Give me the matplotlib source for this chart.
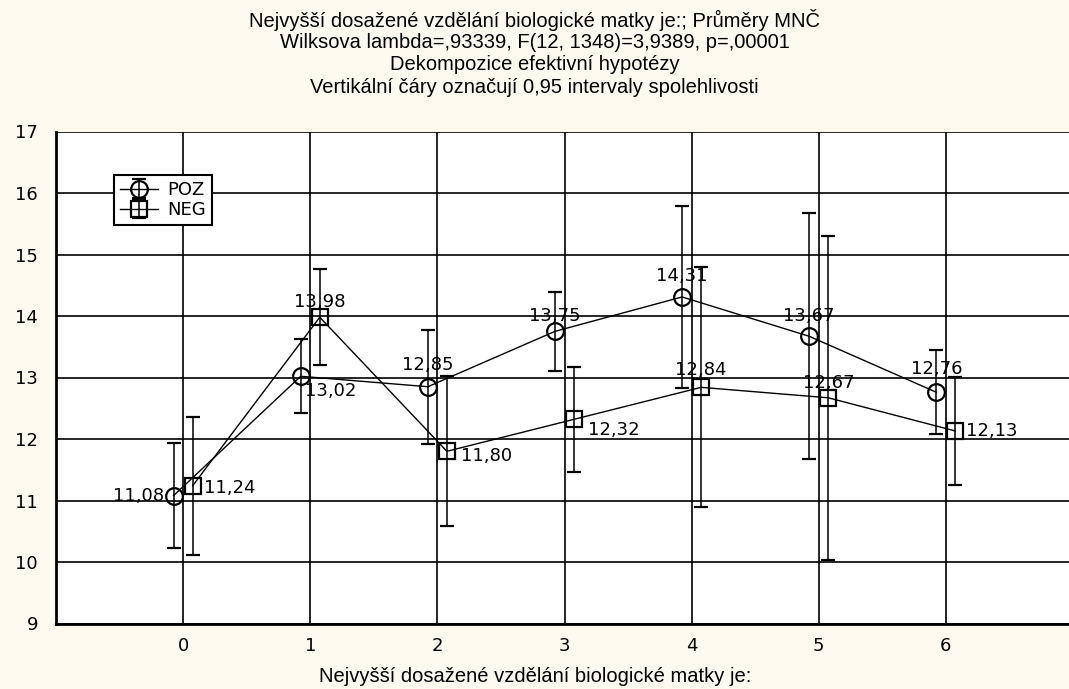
import numpy as np
import matplotlib.pyplot as plt

# data
x = np.array([0, 1, 2, 3, 4, 5, 6])
poz_mean = [11.08, 13.02, 12.85, 13.75, 14.31, 13.67, 12.76]
poz_ci = [0.85, 0.60, 0.93, 0.64, 1.48, 2.00, 0.68]
neg_mean = [11.24, 13.98, 11.80, 12.32, 12.84, 12.67, 12.13]
neg_ci = [1.12, 0.78, 1.22, 0.85, 1.95, 2.63, 0.88]
poz_lbl = ['11,08', '13,02', '12,85', '13,75', '14,31', '13,67', '12,76']
neg_lbl = ['11,24', '13,98', '11,80', '12,32', '12,84', '12,67', '12,13']

title_lines = ['Nejvyšší dosažené vzdělání biologické matky je:; Průměry MNČ',
               'Wilksova lambda=,93339, F(12, 1348)=3,9389, p=,00001',
               'Dekompozice efektivní hypotézy',
               'Vertikální čáry označují 0,95 intervaly spolehlivosti']
xlabel = 'Nejvyšší dosažené vzdělání biologické matky je:'

arial = ['Liberation Sans', 'DejaVu Sans']

fig = plt.figure(figsize=(10.69, 6.89), dpi=100)
fig.patch.set_facecolor('#fdf9ee')
ax = fig.add_axes([56/1069, 65.5/689, 1017/1069, 492/689])
ax.set_facecolor('white')

off = 0.075
eb_kw = dict(color='black', lw=1.0, elinewidth=1.1, capsize=5, capthick=1.1,
             mfc='none', mec='black', mew=1.6)
ax.errorbar(x - off, poz_mean, yerr=poz_ci, fmt='-o', ms=12, label='POZ', zorder=3, **eb_kw)
ax.errorbar(x + off, neg_mean, yerr=neg_ci, fmt='-s', ms=11.5, label='NEG', zorder=3, **eb_kw)

# value labels: offsets in pixels (dx, dy) and alignment
poz_pos = [(-9, 0, 'right'), (4, -15, 'left'), (0, 22, 'center'), (0, 15, 'center'),
           (0, 21, 'center'), (0, 20, 'center'), (0, 23, 'center')]
neg_pos = [(11, -2, 'left'), (0, 15, 'center'), (14, -5, 'left'), (14, -11, 'left'),
           (0, 17, 'center'), (0, 15, 'center'), (11, 0, 'left')]
for xs, ys, labs, pos in [(x - off, poz_mean, poz_lbl, poz_pos), (x + off, neg_mean, neg_lbl, neg_pos)]:
    for xi, yi, t, (dx, dy, ha) in zip(xs, ys, labs, pos):
        ax.annotate(t, (xi, yi), xytext=(dx * 0.72, dy * 0.72), textcoords='offset points',
                    ha=ha, va='center', fontsize=13, zorder=4)

ax.set_xlim(-1, 7)
ax.set_ylim(9, 17)
ax.set_xticks(x)
ax.set_yticks(np.arange(9, 18, 1))
ax.tick_params(length=0, labelsize=13)
ax.tick_params(axis='y', pad=13)
ax.tick_params(axis='x', pad=10)
ax.grid(True, color='black', lw=1.2)
ax.set_axisbelow(True)
for s in ['top', 'right']:
    ax.spines[s].set_visible(False)
for s in ['left', 'bottom']:
    ax.spines[s].set_linewidth(2)

leg = ax.legend(loc='upper left', bbox_to_anchor=(58/1017, 1 - 43/492), fontsize=13,
                frameon=True, fancybox=False, borderpad=0.35, handlelength=2.1,
                handletextpad=0.5, labelspacing=0.12, borderaxespad=0, framealpha=1)
leg.get_frame().set_edgecolor('black')
leg.get_frame().set_linewidth(1.5)

for i, t in enumerate(title_lines):
    fig.text(0.5, 1 - (20 + i * 22.5) / 689, t, ha='center', va='center',
             fontsize=14.5, family=arial)
fig.text(535/1069, 1 - 676/689, xlabel, ha='center', va='center', fontsize=14.5, family=arial)

fig.savefig('out.png', dpi=100, facecolor=fig.get_facecolor())
